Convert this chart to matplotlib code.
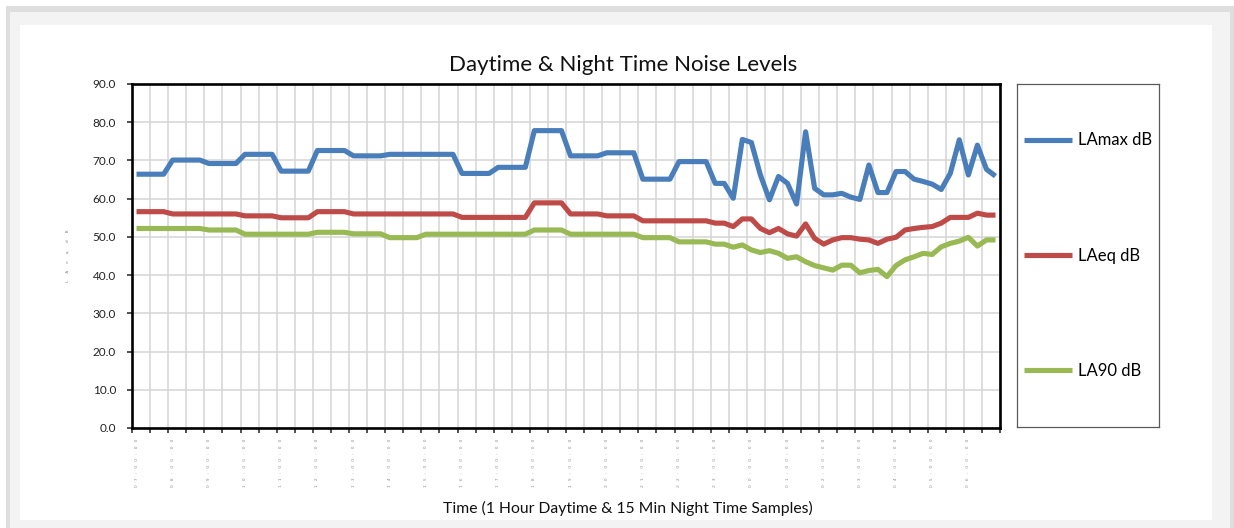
import numpy as np
import matplotlib
matplotlib.use("Agg")
import matplotlib.pyplot as plt
from matplotlib.patches import Rectangle

# Hourly daytime values (each hour held for four quarter-hour slots), then 15 min night samples
la_max = [66.4, 66.4, 66.4, 66.4, 70.1, 70.1, 70.1, 70.1, 69.2, 69.2, 69.2, 69.2,
          71.6, 71.6, 71.6, 71.6, 67.2, 67.2, 67.2, 67.2, 72.6, 72.6, 72.6, 72.6,
          71.2, 71.2, 71.2, 71.2, 71.6, 71.6, 71.6, 71.6, 71.6, 71.6, 71.6, 71.6,
          66.6, 66.6, 66.6, 66.6, 68.2, 68.2, 68.2, 68.2, 77.8, 77.8, 77.8, 77.8,
          71.2, 71.2, 71.2, 71.2, 72.0, 72.0, 72.0, 72.0, 65.1, 65.1, 65.1, 65.1,
          69.7, 69.7, 69.7, 69.7, 64.0, 64.0, 60.1, 75.5, 74.7, 66.2, 59.7, 65.8,
          64.0, 58.6, 77.5, 62.7, 61.0, 61.0, 61.4, 60.4, 59.8, 68.8, 61.6, 61.6,
          67.1, 67.1, 65.1, 64.5, 63.8, 62.4, 66.6, 75.4, 66.2, 74.0, 67.7, 65.9]

la_eq = [56.6, 56.6, 56.6, 56.6, 56.0, 56.0, 56.0, 56.0, 56.0, 56.0, 56.0, 56.0,
         55.5, 55.5, 55.5, 55.5, 55.0, 55.0, 55.0, 55.0, 56.6, 56.6, 56.6, 56.6,
         56.0, 56.0, 56.0, 56.0, 56.0, 56.0, 56.0, 56.0, 56.0, 56.0, 56.0, 56.0,
         55.1, 55.1, 55.1, 55.1, 55.1, 55.1, 55.1, 55.1, 58.9, 58.9, 58.9, 58.9,
         56.0, 56.0, 56.0, 56.0, 55.5, 55.5, 55.5, 55.5, 54.2, 54.2, 54.2, 54.2,
         54.2, 54.2, 54.2, 54.2, 53.6, 53.6, 52.7, 54.7, 54.7, 52.2, 51.1, 52.2,
         50.8, 50.2, 53.4, 49.6, 48.1, 49.2, 49.8, 49.8, 49.4, 49.2, 48.3, 49.4,
         49.9, 51.8, 52.2, 52.5, 52.7, 53.6, 55.1, 55.1, 55.1, 56.2, 55.7, 55.7]

la_90 = [52.2, 52.2, 52.2, 52.2, 52.2, 52.2, 52.2, 52.2, 51.8, 51.8, 51.8, 51.8,
         50.7, 50.7, 50.7, 50.7, 50.7, 50.7, 50.7, 50.7, 51.2, 51.2, 51.2, 51.2,
         50.8, 50.8, 50.8, 50.8, 49.8, 49.8, 49.8, 49.8, 50.7, 50.7, 50.7, 50.7,
         50.7, 50.7, 50.7, 50.7, 50.7, 50.7, 50.7, 50.7, 51.8, 51.8, 51.8, 51.8,
         50.7, 50.7, 50.7, 50.7, 50.7, 50.7, 50.7, 50.7, 49.8, 49.8, 49.8, 49.8,
         48.7, 48.7, 48.7, 48.7, 48.1, 48.1, 47.3, 47.9, 46.6, 45.9, 46.4, 45.7,
         44.4, 44.8, 43.5, 42.5, 41.9, 41.3, 42.6, 42.6, 40.6, 41.2, 41.5, 39.6,
         42.5, 44.0, 44.8, 45.7, 45.4, 47.4, 48.3, 48.9, 49.9, 47.6, 49.2, 49.2]

series_names = ["LAmax dB", "LAeq dB", "LA90 dB"]
series_colors = ["#4a7ebb", "#be4b48", "#98b954"]

hour_labels = ["07:00:00", "08:00:00", "09:00:00", "10:00:00", "11:00:00", "12:00:00",
               "13:00:00", "14:00:00", "15:00:00", "16:00:00", "17:00:00", "18:00:00",
               "19:00:00", "20:00:00", "21:00:00", "22:00:00", "23:00:00", "00:00:00",
               "01:00:00", "02:00:00", "03:00:00", "04:00:00", "05:00:00", "06:00:00"]

title = "Daytime & Night Time Noise Levels"
x_title = "Time (1 Hour Daytime & 15 Min Night Time Samples)"
y_title = "LAeq dB"

W, H = 1234, 528
plt.rcParams['font.family'] = ['Lato', 'DejaVu Sans']
fig = plt.figure(figsize=(W / 100, H / 100), dpi=100)
fig.patch.set_facecolor("white")


def frame_rect(x0, y0, x1, y1, color):
    fig.add_artist(Rectangle((x0 / W, 1 - y1 / H), (x1 - x0) / W, (y1 - y0) / H,
                             transform=fig.transFigure, facecolor=color,
                             edgecolor="none", zorder=-10))


def spaced(text, gap):
    # widely tracked tiny lettering
    return (" " * gap).join(text)


# chart border bands
frame_rect(6, 6, 1234, 528, "#dedede")
frame_rect(10, 12, 1230, 528, "#f3f3f3")
frame_rect(20, 25, 1212, 520, "white")

ax = fig.add_axes([132 / W, 1 - 428 / H, 868 / W, 344 / H])
n = len(la_max)
xs = np.arange(n)
lines = []
for vals, color, name in zip([la_max, la_eq, la_90], series_colors, series_names):
    ln, = ax.plot(xs, vals, color=color, lw=3.7, solid_joinstyle="round",
                  solid_capstyle="butt", label=name, zorder=3)
    lines.append(ln)

ax.set_xlim(-0.5, n - 0.5)
ax.set_ylim(0, 90)
yt = np.arange(0, 91, 10)
ax.set_yticks(yt)
ax.set_yticklabels([f"{v:.1f}" for v in yt], fontsize=8.5, color="#222222")

ax.set_xticks(np.arange(-0.5, n, 2))
ax.set_xticks(np.arange(0, n, 4), minor=True)
ax.set_xticklabels([spaced(s, 3) for s in hour_labels], minor=True, rotation=90,
                   fontsize=3.2, color="#8c8c8c", family="DejaVu Sans")
ax.tick_params(axis="x", which="major", length=3.5, width=1.1, color="#222222",
               labelbottom=False, direction="out")
ax.tick_params(axis="x", which="minor", length=0, pad=7.5)
ax.tick_params(axis="y", length=3.5, width=1.1, color="#222222", pad=8)

ax.grid(True, which="major", color="#d4d4d4", lw=1.1)
ax.set_axisbelow(True)
for side, sp in ax.spines.items():
    sp.set_color("black")
    sp.set_linewidth(1.9)

ax.set_ylabel(spaced("LAeq", 5) + " " * 6 + spaced("dB", 5), fontsize=3.2,
              color="#8c8c8c", family="DejaVu Sans")
ax.yaxis.set_label_coords(-(132 - 70) / 868, 0.5)

fig.text(623 / W, 1 - 65 / H, title, ha="center", va="center", fontsize=16,
         color="#111111")
fig.text(628 / W, 1 - 508 / H, x_title, ha="center", va="center", fontsize=11.3,
         color="#111111")

# legend panel
lax = fig.add_axes([1017 / W, 1 - 427 / H, 142 / W, 343 / H])
lax.set_xticks([])
lax.set_yticks([])
for sp in lax.spines.values():
    sp.set_color("#595959")
    sp.set_linewidth(0.9)
lax.legend(lines, series_names, loc="center left", bbox_to_anchor=(7 / 142, 0.5),
           frameon=False, borderaxespad=0, borderpad=0, handlelength=2.9,
           handletextpad=0.35, labelspacing=5.95, fontsize=12)

fig.savefig("out.png", dpi=100)
